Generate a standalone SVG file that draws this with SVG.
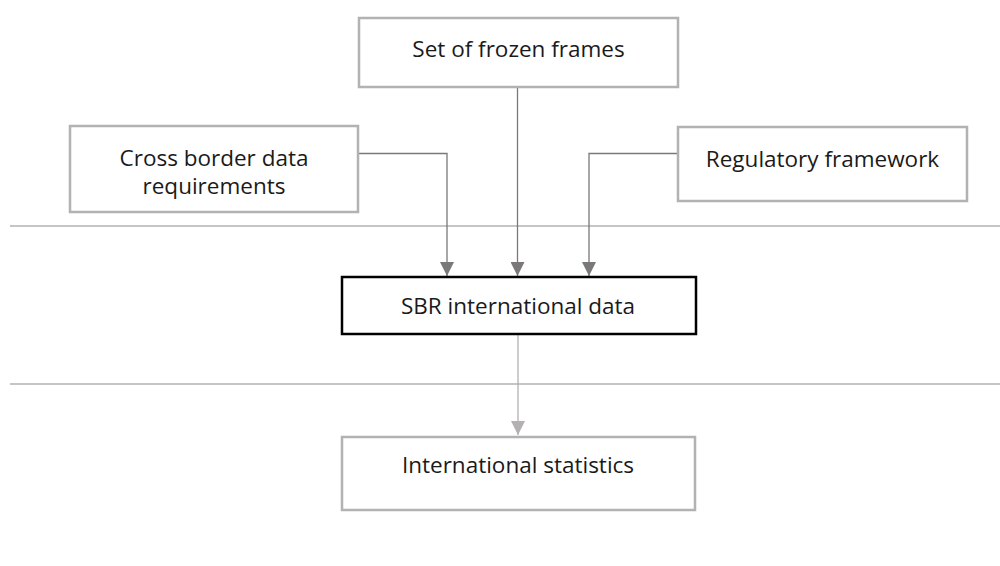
<svg xmlns="http://www.w3.org/2000/svg" width="1000" height="566" viewBox="0 0 1000 566">
<style>
.box{fill:#fff;stroke:#b3b1b1;stroke-width:2.5}
.main{fill:#fff;stroke:#000;stroke-width:2.5}
.t{font-family:"Open Sans","Noto Sans",sans-serif;font-size:22.5px;fill:#1a1a1a;text-anchor:middle}
.sep{stroke:#b3b1b1;stroke-width:1.5}
.c{fill:none;stroke:#7a7878;stroke-width:1.3}
.c2{fill:none;stroke:#b3b1b1;stroke-width:1.3}
</style>
<defs>
<marker id="ad" markerWidth="14" markerHeight="14" viewBox="0 0 14 14" refX="14" refY="7" orient="auto" markerUnits="userSpaceOnUse"><path d="M0,0 L14,7 L0,14 Z" fill="#7a7878"/></marker>
<marker id="al" markerWidth="14" markerHeight="14" viewBox="0 0 14 14" refX="14" refY="7" orient="auto" markerUnits="userSpaceOnUse"><path d="M0,0 L14,7 L0,14 Z" fill="#b3b1b1"/></marker>
</defs>
<g id="separators">
<line class="sep" x1="10" y1="226" x2="1000" y2="226"/>
<line class="sep" x1="10" y1="384" x2="1000" y2="384"/>
</g>
<g id="connectors">
<path class="c" d="M517.5,88 V276" marker-end="url(#ad)"/>
<path class="c" d="M358,153.5 H447 V276" marker-end="url(#ad)"/>
<path class="c" d="M678,153.5 H589 V276" marker-end="url(#ad)"/>
<path class="c2" d="M518,335 V435" marker-end="url(#al)"/>
</g>
<g id="frozen">
<rect class="box" x="359" y="18" width="319" height="69"/>
<text class="t" x="518.5" y="57">Set of frozen frames</text>
</g>
<g id="crossborder">
<rect class="box" x="70" y="126" width="288" height="86"/>
<text class="t" x="214" y="166">Cross border data</text>
<text class="t" x="214" y="194">requirements</text>
</g>
<g id="regulatory">
<rect class="box" x="678" y="127" width="289" height="74"/>
<text class="t" x="822.5" y="167">Regulatory framework</text>
</g>
<g id="sbr">
<rect class="main" x="342" y="277" width="354" height="57"/>
<text class="t" x="518" y="314">SBR international data</text>
</g>
<g id="intl">
<rect class="box" x="342" y="437" width="353" height="73"/>
<text class="t" x="518" y="473">International statistics</text>
</g>
</svg>
